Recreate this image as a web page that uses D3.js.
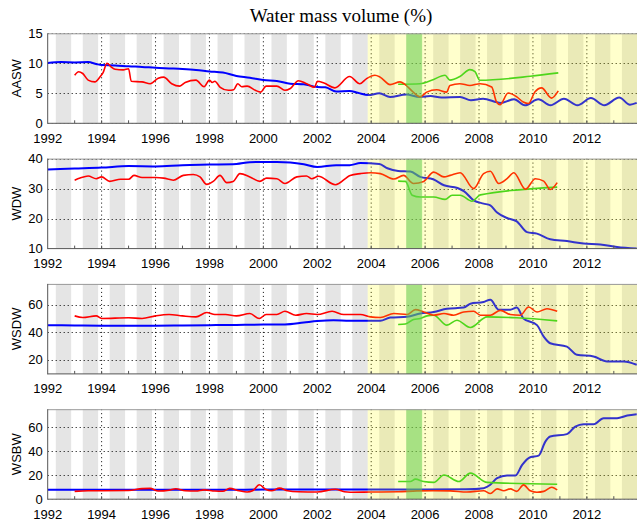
<!DOCTYPE html>
<html><head><meta charset="utf-8">
<script src="https://cdn.jsdelivr.net/npm/d3@7"></script>
<style>
html,body{margin:0;padding:0;background:#fff;}
svg{display:block;}
text{font-family:"Liberation Sans",Arial,sans-serif;}
</style></head>
<body>
<svg id="chart" width="637" height="522"></svg>
<script>
// ---------- DATA ----------
const panelNames = ["AASW", "WDW", "WSDW", "WSBW"];
const yDomains = [[0, 15], [10, 40], [10, 75], [0, 75]];
const yTicks = [[0, 5, 10, 15], [10, 20, 30, 40], [20, 40, 60], [0, 20, 40, 60]];
const xTickYears = [1992, 1994, 1996, 1998, 2000, 2002, 2004, 2006, 2008, 2010, 2012];
const titleText = "Water mass volume (%)";

const aaswBlue = [[1992.0,10.05],[1992.5,10.2],[1993.0,10.15],[1993.5,10.2],[1993.8,9.9],[1994.0,9.7],[1994.5,9.65],[1995.0,9.5],[1995.5,9.4],[1996.0,9.25],[1996.5,9.15],[1997.0,9.05],[1997.5,8.9],[1998.0,8.65],[1998.5,8.45],[1999.0,7.9],[1999.5,7.6],[2000.0,7.2],[2000.5,7.05],[2001.0,6.6],[2001.5,6.5],[2002.0,6.05],[2002.3,6.0],[2002.7,5.3],[2003.2,5.4],[2003.5,5.1],[2003.9,4.7],[2004.3,5.0],[2004.7,4.4],[2005.3,4.8],[2005.8,4.4],[2006.2,4.55],[2006.6,4.3],[2007.3,4.4],[2007.7,3.85],[2008.15,4.1],[2008.8,3.4],[2009.3,4.0],[2009.7,3.0],[2010.2,4.0],[2010.65,3.0],[2011.15,4.1],[2011.65,3.0],[2012.15,4.2],[2012.65,3.0],[2013.2,4.3],[2013.6,3.1],[2013.85,3.4]];
const aaswRed = [[1993.0,8.0],[1993.15,8.6],[1993.3,8.3],[1993.5,7.2],[1993.75,6.9],[1993.95,7.8],[1994.05,8.4],[1994.2,10.0],[1994.35,9.4],[1994.5,9.0],[1994.8,8.9],[1995.0,9.1],[1995.1,7.0],[1995.5,6.9],[1995.8,6.6],[1996.1,7.5],[1996.3,7.7],[1996.6,6.6],[1996.9,6.2],[1997.1,6.8],[1997.5,7.2],[1997.8,6.1],[1998.0,7.2],[1998.1,6.8],[1998.2,7.0],[1998.4,6.0],[1998.7,5.5],[1998.9,5.6],[1999.05,6.6],[1999.2,6.1],[1999.4,6.2],[1999.7,5.5],[1999.9,5.2],[2000.1,6.2],[2000.5,6.2],[2000.8,5.5],[2001.0,5.8],[2001.3,7.1],[2001.6,6.6],[2001.9,6.0],[2002.0,7.0],[2002.25,6.7],[2002.65,5.9],[2003.2,7.8],[2003.58,6.6],[2003.83,7.45],[2004.14,8.0],[2004.33,7.7],[2004.7,6.45],[2005.07,6.9],[2005.25,6.5],[2005.56,5.2],[2005.81,4.4],[2006.06,5.2],[2006.43,5.6],[2006.8,5.2],[2006.92,6.3],[2007.29,6.6],[2007.66,6.3],[2008.04,6.6],[2008.47,6.05],[2008.65,3.55],[2008.78,3.1],[2009.08,5.05],[2009.4,4.4],[2009.64,3.55],[2009.83,3.3],[2010.07,5.2],[2010.32,5.9],[2010.69,4.2],[2010.94,5.4]];
const aaswGreen = [[2005.0,6.5],[2005.81,6.6],[2006.24,7.17],[2006.74,8.0],[2006.92,7.2],[2007.29,7.8],[2007.66,8.95],[2007.85,8.6],[2008.03,7.17],[2009.9,7.83],[2010.94,8.4]];

const wdwBlue = [[1992,36.4],[1993,36.7],[1994,37.0],[1995,37.5],[1996,37.4],[1997,37.8],[1998,38.0],[1999,38.2],[1999.5,38.8],[2000,38.9],[2000.5,38.9],[2001,38.7],[2001.5,38.1],[2002,37.2],[2002.7,37.8],[2003.2,37.8],[2003.6,38.5],[2004.3,38.2],[2004.6,36.8],[2005,35.9],[2005.45,35.7],[2005.82,33.9],[2006.3,33.1],[2006.7,31.1],[2007.2,30.2],[2007.45,29.1],[2007.8,26.1],[2008.17,25.0],[2008.42,24.4],[2008.67,22.0],[2009.04,20.2],[2009.4,19.1],[2009.78,15.5],[2010.15,15.0],[2010.64,13.1],[2011.26,12.5],[2011.88,11.7],[2012.5,11.4],[2013.12,10.5],[2013.85,10.0]];
const wdwRed = [[1993.0,32.8],[1993.2,33.5],[1993.5,34.2],[1993.8,33.3],[1994.0,33.9],[1994.3,32.4],[1994.7,33.1],[1995.0,33.1],[1995.2,34.4],[1995.5,33.7],[1996.0,33.7],[1996.3,33.5],[1996.66,32.8],[1997.03,34.4],[1997.4,34.7],[1997.65,33.9],[1997.9,31.4],[1998.14,32.4],[1998.39,34.4],[1998.64,32.0],[1998.88,32.4],[1999.13,35.0],[1999.5,33.9],[1999.87,32.4],[2000.12,33.5],[2000.5,33.3],[2000.8,31.7],[2001.24,33.9],[2001.6,34.2],[2001.8,33.3],[2002.04,34.1],[2002.67,31.3],[2003.22,34.4],[2003.6,35.0],[2003.97,35.3],[2004.34,35.0],[2004.84,33.2],[2005.2,34.4],[2005.57,31.7],[2005.95,32.4],[2006.32,35.5],[2006.7,33.9],[2006.93,34.4],[2007.3,35.3],[2007.8,30.0],[2008.17,35.0],[2008.42,35.8],[2008.73,31.7],[2009.04,33.3],[2009.29,35.3],[2009.72,29.8],[2010.09,33.3],[2010.4,32.5],[2010.64,29.7],[2010.9,32.0]];
const wdwGreen = [[2005.0,32.5],[2005.27,32.4],[2005.52,27.8],[2005.82,27.2],[2006.32,27.2],[2006.74,26.4],[2007.0,27.8],[2007.3,27.8],[2007.74,25.8],[2008.05,27.9],[2010.9,30.5]];

const wsdwBlue = [[1992,45.2],[1993,45.0],[1994,44.8],[1995,44.7],[1996,44.8],[1997,45.0],[1998,45.2],[1999,45.4],[2000,45.6],[2000.8,45.7],[2001.5,47.1],[2002,48.2],[2002.6,48.8],[2003.2,48.4],[2004.34,48.4],[2004.71,50.7],[2005.33,51.2],[2005.82,53.6],[2006.32,54.7],[2006.81,57.1],[2007.43,57.9],[2007.68,60.7],[2008.17,61.9],[2008.42,63.6],[2008.73,56.4],[2009.16,56.4],[2009.4,57.9],[2009.65,50.0],[2010.15,45.2],[2010.4,36.9],[2010.64,32.1],[2011.26,29.7],[2011.63,23.8],[2012.25,22.6],[2012.75,19.0],[2013.37,19.0],[2013.85,16.6]];
const wsdwRed = [[1993.0,51.9],[1993.3,50.7],[1993.8,51.9],[1994.0,50.0],[1995.0,50.5],[1995.5,50.0],[1996.0,51.9],[1996.5,52.9],[1997.0,51.9],[1997.5,51.2],[1997.9,54.3],[1998.2,52.9],[1998.6,52.9],[1999.0,51.9],[1999.5,53.6],[1999.85,50.0],[2000.1,52.9],[2000.5,52.9],[2000.8,55.2],[2001.2,52.4],[2001.6,53.6],[2002.0,52.9],[2002.55,55.2],[2002.98,52.9],[2003.6,52.9],[2003.97,51.2],[2004.34,50.7],[2004.84,53.6],[2005.33,52.9],[2005.64,56.4],[2005.95,54.7],[2006.32,52.4],[2006.7,53.6],[2007.06,52.4],[2007.43,54.7],[2007.8,55.2],[2008.05,52.4],[2008.42,52.4],[2008.79,55.9],[2009.16,52.9],[2009.53,52.4],[2009.84,58.3],[2010.15,54.7],[2010.52,57.1],[2010.9,55.2]];
const wsdwGreen = [[2005.0,45.7],[2005.27,46.0],[2005.57,49.3],[2005.82,50.0],[2006.07,51.9],[2006.32,52.4],[2006.81,45.2],[2007.18,48.8],[2007.68,43.5],[2008.3,51.2],[2009.4,50.5],[2010.9,48.3]];

const wsbwBlue = [[1992,7.9],[1994,7.9],[1996,7.9],[1998,7.9],[2000,8.0],[2002,8.1],[2004,8.1],[2006,8.1],[2007.5,8.2],[2008.17,9.2],[2008.42,12],[2008.67,17.5],[2009.04,19.7],[2009.35,19.7],[2009.6,28.6],[2009.9,35],[2010.21,36.3],[2010.46,48],[2010.64,52.2],[2011.26,54.2],[2011.57,60.5],[2011.88,62.5],[2012.25,62.5],[2012.62,67.5],[2013.12,67.5],[2013.5,69.7],[2013.85,70.8]];
const wsbwRed = [[1993.0,6.5],[1993.5,7.0],[1994.0,7.0],[1995.0,7.2],[1995.5,8.8],[1995.8,9.0],[1996.1,6.8],[1996.5,7.5],[1996.75,8.7],[1997.1,7.0],[1997.5,6.8],[1997.8,7.8],[1998.2,6.8],[1998.5,6.6],[1998.75,9.0],[1999.1,7.0],[1999.4,6.0],[1999.6,7.0],[1999.85,12.0],[2000.1,8.0],[2000.3,7.0],[2000.6,9.2],[2000.9,7.0],[2001.3,6.2],[2002.0,6.0],[2002.67,8.3],[2003.0,6.2],[2003.22,5.8],[2004.0,6.0],[2005.0,6.2],[2005.7,6.9],[2006.3,7.0],[2006.93,6.9],[2007.55,6.0],[2008.17,7.0],[2008.42,4.7],[2008.67,8.6],[2008.92,7.0],[2009.16,8.6],[2009.4,6.5],[2009.65,11.9],[2009.9,7.0],[2010.15,5.8],[2010.4,6.5],[2010.7,10.0],[2010.9,7.7]];
const wsbwGreen = [[2005.0,14.7],[2005.45,14.7],[2005.64,16.7],[2005.95,14.7],[2006.32,14.0],[2006.7,20.2],[2007.25,14.7],[2007.68,21.7],[2008.3,14.0],[2010.9,12.5]];

// seasonal bands (fraction of year) and special periods
const seasonStart = 0.3, seasonEnd = 0.87;
const bandYears = d3.range(1992, 2014);
const yellowPeriod = [2003.87, 2013.86];
const greenPeriod = [2005.3, 2005.89];

const seriesByPanel = [
  {blue: aaswBlue, red: aaswRed, green: aaswGreen},
  {blue: wdwBlue, red: wdwRed, green: wdwGreen},
  {blue: wsdwBlue, red: wsdwRed, green: wsdwGreen},
  {blue: wsbwBlue, red: wsbwRed, green: wsbwGreen}
];

// ---------- LAYOUT ----------
const W = 637, H = 522;
const left = 47.7, right = 637;
const panelTop0 = 33.3, panelStep = 125.3, panelH = 90;
const labelGap = [20, 19.5, 19.5, 19.5];
const x = d3.scaleLinear().domain([1992, 2013.86]).range([left, right]);

const svg = d3.select("#chart");

svg.append("text")
  .attr("x", 341).attr("y", 22)
  .attr("text-anchor", "middle")
  .style("font-family", "'Liberation Serif','Times New Roman',serif")
  .style("font-size", "19px")
  .attr("fill", "#000")
  .text(titleText);

panelNames.forEach((name, i) => {
  const top = panelTop0 + i * panelStep;
  const bottom = top + panelH;
  const y = d3.scaleLinear().domain(yDomains[i]).range([bottom, top]);
  const g = svg.append("g");
  const clipId = "clip" + i;
  svg.append("clipPath").attr("id", clipId)
    .append("rect").attr("x", left).attr("y", top).attr("width", right - left).attr("height", panelH);
  const inner = g.append("g").attr("clip-path", `url(#${clipId})`);

  // gray seasonal bands
  inner.selectAll("rect.band").data(bandYears).enter().append("rect")
    .attr("class", "band")
    .attr("x", d => x(d + seasonStart))
    .attr("width", d => x(d + seasonEnd) - x(d + seasonStart))
    .attr("y", top).attr("height", panelH)
    .attr("fill", "#e5e5e5");

  // grid lines
  inner.selectAll("line.vg").data(xTickYears.slice(1)).enter().append("line")
    .attr("x1", d => x(d)).attr("x2", d => x(d))
    .attr("y1", top).attr("y2", bottom)
    .attr("stroke", "#000").attr("stroke-width", 1)
    .attr("stroke-dasharray", "1,3");
  inner.selectAll("line.hg").data(yTicks[i]).enter().append("line")
    .attr("x1", left).attr("x2", right)
    .attr("y1", d => Math.round(y(d)) + 0.5).attr("y2", d => Math.round(y(d)) + 0.5)
    .attr("stroke", "#000").attr("stroke-width", 1)
    .attr("stroke-dasharray", "1,3");

  // series
  const line = d3.line().x(d => x(d[0])).y(d => y(d[1])).curve(d3.curveMonotoneX);
  const s = seriesByPanel[i];
  inner.append("path").datum(s.blue).attr("d", line)
    .attr("fill", "none").attr("stroke", "#0000ff").attr("stroke-width", 2);
  inner.append("path").datum(s.green).attr("d", line)
    .attr("fill", "none").attr("stroke", "#22cc22").attr("stroke-width", 1.6);
  inner.append("path").datum(s.red).attr("d", line)
    .attr("fill", "none").attr("stroke", "#ff0000").attr("stroke-width", 1.6);

  // overlays
  inner.append("rect")
    .attr("x", x(yellowPeriod[0])).attr("width", x(yellowPeriod[1]) - x(yellowPeriod[0]))
    .attr("y", top).attr("height", panelH)
    .attr("fill", "#ffff00").attr("fill-opacity", 0.2);
  inner.append("rect")
    .attr("x", x(greenPeriod[0])).attr("width", x(greenPeriod[1]) - x(greenPeriod[0]))
    .attr("y", top).attr("height", panelH)
    .attr("fill", "#64d750").attr("fill-opacity", 0.5);

  // frame
  g.append("line").attr("x1", left).attr("x2", right).attr("y1", top + 0.5).attr("y2", top + 0.5)
    .attr("stroke", "#999").attr("stroke-width", 1);
  g.append("line").attr("x1", left).attr("x2", right).attr("y1", bottom).attr("y2", bottom)
    .attr("stroke", "#555").attr("stroke-width", 1);
  g.append("line").attr("x1", left).attr("x2", left).attr("y1", top).attr("y2", bottom + 0.5)
    .attr("stroke", "#555").attr("stroke-width", 1);

  // minor ticks on bottom (yearly)
  g.selectAll("line.mt").data(bandYears.slice(1)).enter().append("line")
    .attr("x1", d => x(d)).attr("x2", d => x(d))
    .attr("y1", bottom).attr("y2", bottom - 3)
    .attr("stroke", "#555").attr("stroke-width", 1);

  // y tick labels
  g.selectAll("text.yt").data(yTicks[i]).enter().append("text")
    .attr("x", left - 5).attr("y", d => y(d))
    .attr("dy", "0.34em")
    .attr("text-anchor", "end")
    .style("font-size", "13px")
    .text(d => d);

  // x tick labels
  g.selectAll("text.xt").data(xTickYears).enter().append("text")
    .attr("x", d => x(d)).attr("y", bottom + labelGap[i])
    .attr("text-anchor", "middle")
    .style("font-size", "13px")
    .text(d => d);

  // y title
  g.append("text")
    .attr("transform", `translate(21,${(top + bottom) / 2}) rotate(-90)`)
    .attr("text-anchor", "middle")
    .style("font-size", "13px")
    .text(name);
});
</script>
</body></html>
